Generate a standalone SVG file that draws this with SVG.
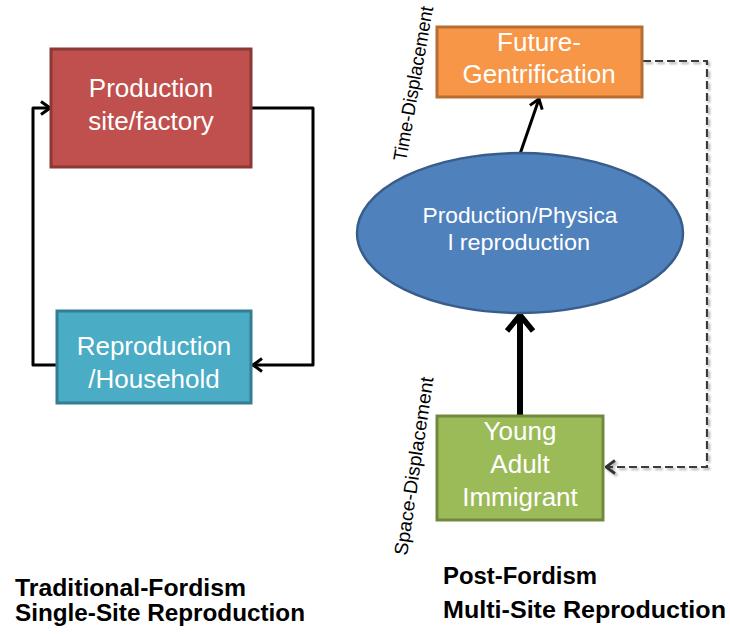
<svg xmlns="http://www.w3.org/2000/svg" width="730" height="634" viewBox="0 0 730 634">
  <style>
    .lbl { font-family: "Liberation Sans", Arial, sans-serif; font-size: 26px; fill: #ffffff; text-anchor: middle; }
    .olbl { font-family: "Liberation Sans", Arial, sans-serif; font-size: 22px; fill: #ffffff; text-anchor: middle; }
    .rot { font-family: "Liberation Sans", Arial, sans-serif; font-size: 19px; fill: #000000; }
    .cap { font-family: "Liberation Sans", Arial, sans-serif; font-size: 23px; font-weight: bold; fill: #000000; }
    .conn { fill: none; stroke: #000000; stroke-width: 3; stroke-linejoin: round; }
    .dash { fill: none; stroke: #3a3a3a; stroke-width: 2.2; stroke-dasharray: 8 4; filter: url(#shadow); }
  </style>
  <defs>
    <marker id="arr" viewBox="0 0 12 16" refX="10.5" refY="8" markerWidth="12" markerHeight="16" markerUnits="userSpaceOnUse" orient="auto">
      <path d="M1.5,1.5 L10.5,8 L1.5,14.5" fill="none" stroke="#000" stroke-width="3"/>
    </marker>
    <marker id="arrG" viewBox="0 0 12 16" refX="10.5" refY="8" markerWidth="12" markerHeight="16" markerUnits="userSpaceOnUse" orient="auto">
      <path d="M1.5,1.5 L10.5,8 L1.5,14.5" fill="none" stroke="#333" stroke-width="2.8"/>
    </marker>
    <marker id="arrT" viewBox="0 0 22 30" refX="20" refY="15" markerWidth="22" markerHeight="30" markerUnits="userSpaceOnUse" orient="auto">
      <path d="M3,2 L19,15 L3,28" fill="none" stroke="#000" stroke-width="5.5"/>
    </marker>
    <filter id="shadow" x="-10%" y="-10%" width="120%" height="120%">
      <feDropShadow dx="2" dy="2" stdDeviation="0.8" flood-color="#9a9a9a" flood-opacity="0.8"/>
    </filter>
  </defs>

  <rect width="730" height="634" fill="#ffffff"/>

  <g id="connectors">
    <path class="conn" d="M56,365 L33,365 L33,108 L50,108" marker-end="url(#arr)"/>
    <path class="conn" d="M252,108 L313,108 L313,365 L253,365" marker-end="url(#arr)"/>
    <path class="conn" d="M520,154 L539,99" marker-end="url(#arr)"/>
    <path class="conn" d="M520,415 L520,314" style="stroke-width:6" marker-end="url(#arrT)"/>
    <path class="dash" d="M643,61 L707,61 L707,467 L606,467" marker-end="url(#arrG)"/>
  </g>

  <g id="production-site">
    <rect x="51" y="49" width="200" height="118" fill="#C0504D" stroke="#8C3836" stroke-width="3"/>
    <text class="lbl" x="151" y="97">Production</text>
    <text class="lbl" x="151" y="130">site/factory</text>
  </g>

  <g id="reproduction-household">
    <rect x="57" y="311" width="194" height="92" fill="#4BACC6" stroke="#357D91" stroke-width="3"/>
    <text class="lbl" x="154" y="355">Reproduction</text>
    <text class="lbl" x="154" y="388">/Household</text>
  </g>

  <g id="future-gentrification">
    <rect x="437" y="27" width="205" height="70" fill="#F79646" stroke="#B66D31" stroke-width="3"/>
    <text class="lbl" x="539" y="51">Future-</text>
    <text class="lbl" x="539" y="83">Gentrification</text>
  </g>

  <g id="production-physical-reproduction">
    <ellipse cx="520" cy="233" rx="163" ry="80" fill="#4F81BD" stroke="#385D8A" stroke-width="2.5"/>
    <text class="olbl" x="520" y="223" textLength="195" lengthAdjust="spacingAndGlyphs">Production/Physica</text>
    <text class="olbl" x="519" y="250" textLength="142" lengthAdjust="spacingAndGlyphs">l reproduction</text>
  </g>

  <g id="young-adult-immigrant">
    <rect x="437" y="416" width="166" height="104" fill="#9BBB59" stroke="#71893F" stroke-width="3"/>
    <text class="lbl" x="520" y="440">Young</text>
    <text class="lbl" x="520" y="473">Adult</text>
    <text class="lbl" x="520" y="506">Immigrant</text>
  </g>

  <g id="labels">
    <text class="rot" transform="translate(406,162) rotate(-80)" textLength="157" lengthAdjust="spacingAndGlyphs">Time-Displacement</text>
    <text class="rot" transform="translate(407,556) rotate(-81.5)" textLength="180" lengthAdjust="spacingAndGlyphs">Space-Displacement</text>
    <text class="cap" x="15" y="596" textLength="231" lengthAdjust="spacingAndGlyphs">Traditional-Fordism</text>
    <text class="cap" x="15" y="621" textLength="290" lengthAdjust="spacingAndGlyphs">Single-Site Reproduction</text>
    <text class="cap" x="443" y="584" textLength="154" lengthAdjust="spacingAndGlyphs">Post-Fordism</text>
    <text class="cap" x="443" y="618" textLength="283" lengthAdjust="spacingAndGlyphs">Multi-Site Reproduction</text>
  </g>
</svg>
